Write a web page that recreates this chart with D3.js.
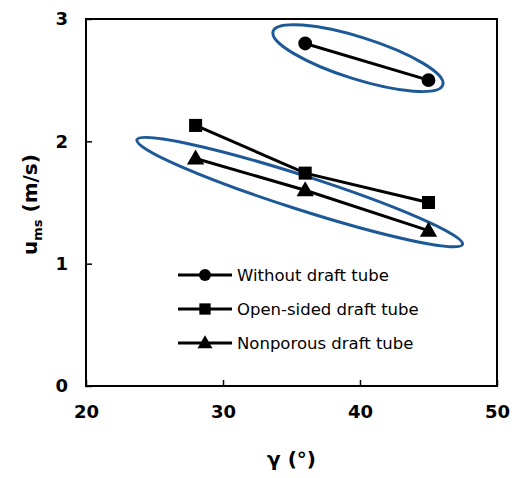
<!DOCTYPE html>
<html>
<head>
<meta charset="utf-8">
<script src="https://cdn.jsdelivr.net/npm/d3@7"></script>
<style>
  body { margin: 0; background: #fff; }
  text { font-family: "DejaVu Sans", Verdana, sans-serif; }
</style>
</head>
<body>
<script>
// data
const gamma = [28, 36, 45];
const withoutTube = [null, 2.80, 2.50];
const openSided = [2.13, 1.74, 1.50];
const nonporous = [1.86, 1.60, 1.27];
const seriesNames = ["Without draft tube", "Open-sided draft tube", "Nonporous draft tube"];
const xTicks = [20, 30, 40, 50];
const yTicks = [0, 1, 2, 3];
// ellipses drawn round groups: centre (gamma, u), semi-axes in px, tilt in degrees
const ellipses = [
  { cx: 39.85, cy: 2.68, rx: 89, ry: 21, angle: 17.5 },
  { cx: 35.6, cy: 1.585, rx: 171, ry: 17, angle: 17.8 }
];

const width = 515, height = 478;
const margin = { left: 86, right: 18, top: 19, bottom: 92 };

const svg = d3.select("body").append("svg")
    .attr("width", width)
    .attr("height", height);

const x = d3.scaleLinear().domain([20, 50]).range([margin.left, width - margin.right]);
const y = d3.scaleLinear().domain([0, 3]).range([height - margin.bottom, margin.top]);

// frame
svg.append("rect")
    .attr("x", x(20)).attr("y", y(3))
    .attr("width", x(50) - x(20)).attr("height", y(0) - y(3))
    .attr("fill", "none").attr("stroke", "#000").attr("stroke-width", 2);

// axes, ticks pointing inwards
const xAxis = svg.append("g")
    .attr("transform", `translate(0,${y(0)})`)
    .call(d3.axisBottom(x).tickValues(xTicks).tickFormat(d3.format("d")).tickSize(-6).tickPadding(16));
const yAxis = svg.append("g")
    .attr("transform", `translate(${x(20)},0)`)
    .call(d3.axisLeft(y).tickValues(yTicks).tickFormat(d3.format("d")).tickSize(-6).tickPadding(18));

[xAxis, yAxis].forEach(g => {
  g.select(".domain").remove();
  g.selectAll(".tick line").attr("stroke", "#000").attr("stroke-width", 1.5);
  g.selectAll(".tick text")
      .attr("font-family", "DejaVu Sans, sans-serif")
      .attr("font-size", 18).attr("font-weight", "bold").attr("fill", "#000");
});
xAxis.selectAll(".tick text").attr("dy", "0.9em");

// axis titles
svg.append("text")
    .attr("x", (x(20) + x(50)) / 2).attr("y", 466)
    .attr("text-anchor", "middle")
    .attr("font-size", 20).attr("font-weight", "bold")
    .text("γ (°)");

const yt = svg.append("text")
    .attr("transform", `translate(37,${(y(0) + y(3)) / 2 + 2}) rotate(-90)`)
    .attr("text-anchor", "middle")
    .attr("font-size", 20).attr("font-weight", "bold");
yt.append("tspan").text("u");
yt.append("tspan").attr("font-size", 13).attr("dy", 5).text("ms");
yt.append("tspan").attr("dy", -5).text(" (m/s)");

// ellipses
svg.selectAll("ellipse.group")
  .data(ellipses)
  .enter().append("ellipse")
    .attr("class", "group")
    .attr("transform", d => `translate(${x(d.cx)},${y(d.cy)}) rotate(${d.angle})`)
    .attr("rx", d => d.rx).attr("ry", d => d.ry)
    .attr("fill", "none").attr("stroke", "#1d5996").attr("stroke-width", 3);

const line = d3.line()
    .defined(d => d[1] != null)
    .x(d => x(d[0])).y(d => y(d[1]));

const symbols = [d3.symbolCircle, d3.symbolSquare, d3.symbolTriangle];
const symSize = [150, 170, 130];
const allSeries = [withoutTube, openSided, nonporous];

allSeries.forEach((vals, i) => {
  const pts = gamma.map((g, j) => [g, vals[j]]);
  svg.append("path")
      .attr("d", line(pts))
      .attr("fill", "none").attr("stroke", "#000").attr("stroke-width", 3);
  svg.selectAll(null)
    .data(pts.filter(p => p[1] != null))
    .enter().append("path")
      .attr("transform", p => `translate(${x(p[0])},${y(p[1]) + (i == 2 ? 1 : 0)})`)
      .attr("d", d3.symbol().type(symbols[i]).size(symSize[i]))
      .attr("fill", "#000");
});

// legend
const legend = svg.append("g").attr("transform", "translate(178,275)");
seriesNames.forEach((name, i) => {
  const row = legend.append("g").attr("transform", `translate(0,${i * 34})`);
  row.append("line").attr("x1", 0).attr("x2", 54)
      .attr("stroke", "#000").attr("stroke-width", 3);
  row.append("path")
      .attr("transform", `translate(27,${i == 2 ? 1 : 0})`)
      .attr("d", d3.symbol().type(symbols[i]).size(symSize[i] * 0.75))
      .attr("fill", "#000");
  row.append("text")
      .attr("x", 59).attr("dy", "0.35em")
      .attr("font-size", 16.5)
      .text(name);
});
</script>
</body>
</html>
